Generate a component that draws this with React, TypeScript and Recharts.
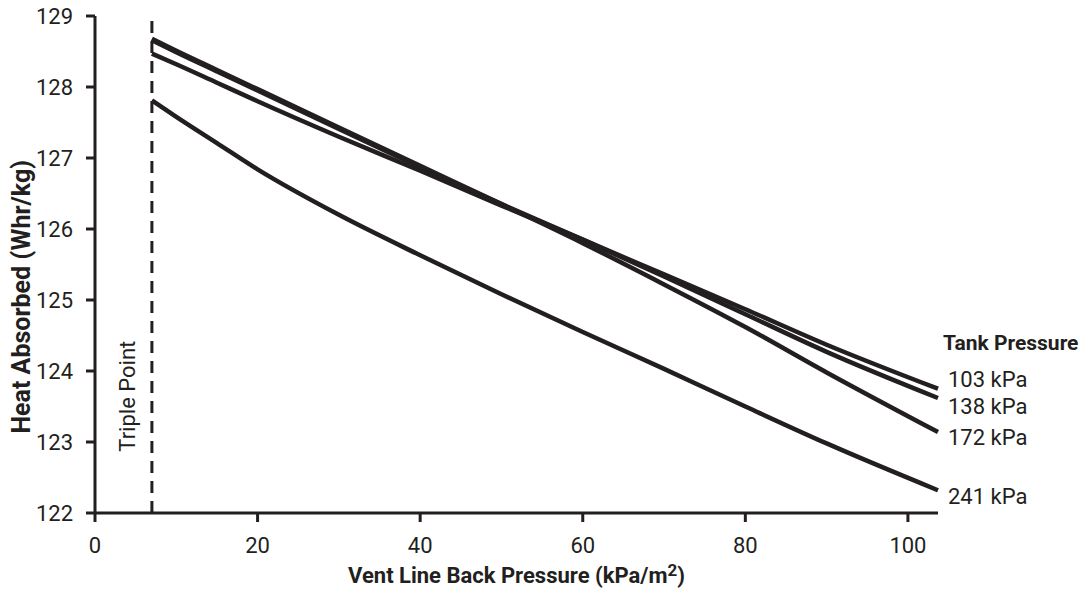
import React from "react";
import {
  LineChart,
  Line,
  XAxis,
  YAxis,
  ReferenceLine,
  LabelList,
  Label,
} from "recharts";

// vent line back pressure (kPa/m2) where each curve is sampled
const backPressure = [7, 10, 15, 20, 30, 40, 50, 60, 70, 80, 90, 103.7];

// heat absorbed (Whr/kg) for each tank pressure
const tank103 = [128.47, 128.32, 128.06, 127.8, 127.3, 126.82, 126.33, 125.85, 125.36, 124.87, 124.37, 123.75];
const tank138 = [128.66, 128.49, 128.22, 127.95, 127.41, 126.87, 126.35, 125.85, 125.33, 124.8, 124.27, 123.62];
const tank172 = [128.68, 128.51, 128.24, 127.97, 127.43, 126.89, 126.35, 125.8, 125.22, 124.62, 123.98, 123.14];
const tank241 = [127.81, 127.58, 127.21, 126.84, 126.2, 125.63, 125.08, 124.55, 124.03, 123.5, 122.98, 122.32];

const xTicks = [0, 20, 40, 60, 80, 100];
const yTicks = [122, 123, 124, 125, 126, 127, 128, 129];
const TRIPLE_POINT = 7;

const series = [
  { key: "p103", label: "103 kPa", values: tank103, dy: -9 },
  { key: "p138", label: "138 kPa", values: tank138, dy: 9 },
  { key: "p172", label: "172 kPa", values: tank172, dy: 5 },
  { key: "p241", label: "241 kPa", values: tank241, dy: 6 },
];

const data = backPressure.map((x, i) => {
  const row: Record<string, number> = { x };
  series.forEach((s) => {
    row[s.key] = s.values[i];
  });
  return row;
});

const INK = "#231f20";
const FONT = "Roboto, 'Liberation Sans', sans-serif";
const lastIndex = backPressure.length - 1;

const endLabel = (text: string, dy: number, withTitle: boolean) => (props: any) => {
  if (props.index !== lastIndex) return null;
  const x = Number(props.x) + 10;
  const y = Number(props.y) + dy;
  return (
    <g>
      {withTitle && (
        <text x={x - 5} y={y - 37} fill={INK} fontFamily={FONT} fontSize={21} fontWeight="bold" dominantBaseline="central">
          Tank Pressure
        </text>
      )}
      <text x={x} y={y} fill={INK} fontFamily={FONT} fontSize={22} dominantBaseline="central">
        {text}
      </text>
    </g>
  );
};

export default function App() {
  return (
    <div style={{ position: "absolute", left: 0, top: 0, background: "#fff" }}>
      <LineChart
        width={1088}
        height={594}
        data={data}
        margin={{ top: 16, right: 150, bottom: 21, left: 0 }}
      >
        <XAxis
          dataKey="x"
          type="number"
          domain={[0, 103.7]}
          ticks={xTicks}
          height={60}
          tickSize={9}
          tickMargin={15}
          stroke={INK}
          strokeWidth={3}
          tick={{ fill: INK, fontSize: 22, fontFamily: FONT }}
        >
          <Label
            content={(p: any) => {
              const vb = p.viewBox || {};
              return (
                <text
                  x={vb.x + vb.width / 2}
                  y={vb.y + 70}
                  textAnchor="middle"
                  fill={INK}
                  fontFamily={FONT}
                  fontSize={22}
                  fontWeight="bold"
                >
                  Vent Line Back Pressure (kPa/m
                  <tspan dy={-7} fontSize={17}>2</tspan>
                  <tspan dy={7}>)</tspan>
                </text>
              );
            }}
          />
        </XAxis>
        <XAxis
          xAxisId="top"
          dataKey="x"
          type="number"
          orientation="top"
          domain={[0, 103.7]}
          height={0}
          tick={false}
          tickLine={false}
          stroke={INK}
          strokeWidth={3}
        />
        <YAxis
          type="number"
          domain={[122, 129]}
          ticks={yTicks}
          width={95}
          tickSize={9}
          tickMargin={13}
          stroke={INK}
          strokeWidth={3}
          tick={{ fill: INK, fontSize: 22, fontFamily: FONT }}
        >
          <Label
            content={(p: any) => {
              const vb = p.viewBox || {};
              const cx = vb.x + 22;
              const cy = vb.y + vb.height * 0.565;
              return (
                <text
                  x={cx}
                  y={cy}
                  transform={`rotate(-90, ${cx}, ${cy})`}
                  textAnchor="middle"
                  dominantBaseline="central"
                  fill={INK}
                  fontFamily={FONT}
                  fontSize={25}
                  fontWeight="bold"
                >
                  Heat Absorbed (Whr/kg)
                </text>
              );
            }}
          />
        </YAxis>
        <YAxis
          yAxisId="right"
          orientation="right"
          type="number"
          domain={[122, 129]}
          width={0}
          tick={false}
          tickLine={false}
          stroke={INK}
          strokeWidth={3}
        />
        <ReferenceLine
          x={TRIPLE_POINT}
          stroke={INK}
          strokeWidth={3}
          strokeDasharray="12 8"
          label={(p: any) => {
            const vb = p.viewBox || {};
            const cx = vb.x - 24;
            const cy = vb.y + vb.height * 0.765;
            return (
              <text
                x={cx}
                y={cy}
                transform={`rotate(-90, ${cx}, ${cy})`}
                textAnchor="middle"
                dominantBaseline="central"
                fill={INK}
                fontFamily={FONT}
                fontSize={22}
              >
                Triple Point
              </text>
            );
          }}
        />
        {series.map((s, i) => (
          <Line
            key={s.key}
            dataKey={s.key}
            type="monotone"
            stroke={INK}
            strokeWidth={4.5}
            dot={false}
            activeDot={false}
            isAnimationActive={false}
          >
            <LabelList dataKey={s.key} content={endLabel(s.label, s.dy, i === 0)} />
          </Line>
        ))}
      </LineChart>
    </div>
  );
}
